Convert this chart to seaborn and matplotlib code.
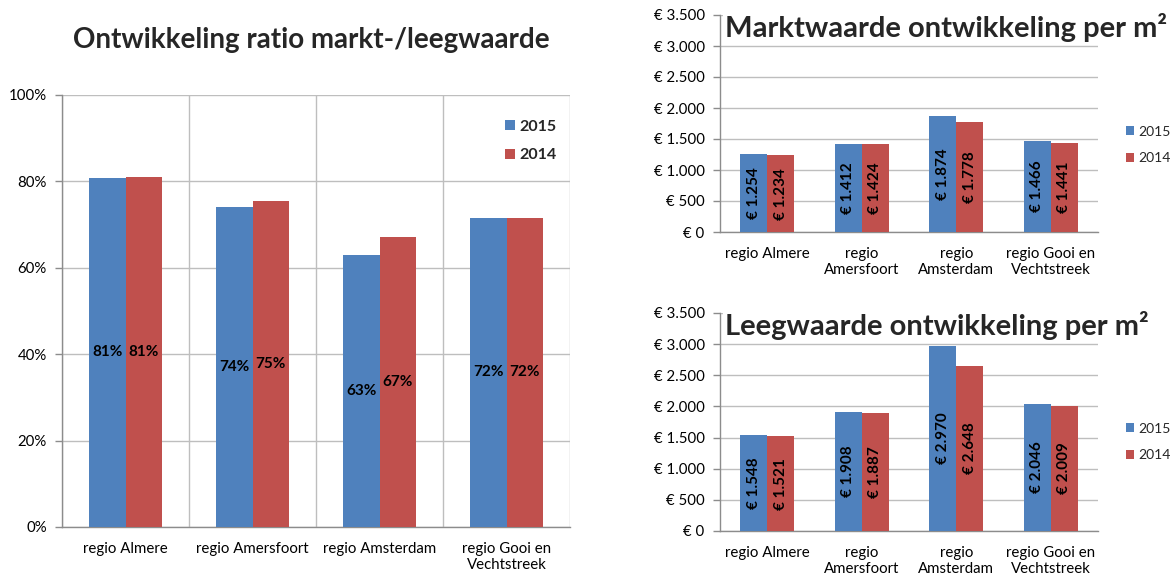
import matplotlib
matplotlib.use("Agg")
import matplotlib.pyplot as plt
from matplotlib.ticker import FuncFormatter, FixedLocator, MultipleLocator
import numpy as np
import pandas as pd
import seaborn as sns

# ---------------- data ----------------
regions = ["regio Almere", "regio Amersfoort", "regio Amsterdam", "regio Gooi en Vechtstreek"]
labels_left = ["regio Almere", "regio Amersfoort", "regio Amsterdam", "regio Gooi en\nVechtstreek"]
labels_right = ["regio Almere", "regio\nAmersfoort", "regio\nAmsterdam", "regio Gooi en\nVechtstreek"]
years = ["2015", "2014"]

ratio_2015 = [0.809, 0.740, 0.630, 0.716]
ratio_2014 = [0.811, 0.754, 0.671, 0.716]

markt_2015 = [1254, 1412, 1874, 1466]
markt_2014 = [1234, 1424, 1778, 1441]

leeg_2015 = [1548, 1908, 2970, 2046]
leeg_2014 = [1521, 1887, 2648, 2009]

title_left = "Ontwikkeling ratio markt-/leegwaarde"
title_markt = "Marktwaarde ontwikkeling per m²"
title_leeg = "Leegwaarde ontwikkeling per m²"

# ---------------- style ----------------
BLUE = "#4F81BD"
RED = "#C0504D"
GRID = "#BEBEBE"
SPINE = "#8C8C8C"

sns.set_style("white")
plt.rcParams["font.family"] = ["Lato", "DejaVu Sans"]

W, H = 1174, 576
fig = plt.figure(figsize=(W / 100, H / 100), dpi=100)


def px_axes(x0, y0, x1, y1):
    return fig.add_axes([x0 / W, 1 - y1 / H, (x1 - x0) / W, (y1 - y0) / H])


def euro(v, pos=None):
    return "€ " + f"{v:,.0f}".replace(",", ".")


def draw_bars(ax, v15, v14):
    df = pd.DataFrame({
        "region": regions * 2,
        "year": [years[0]] * len(regions) + [years[1]] * len(regions),
        "value": list(v15) + list(v14),
    })
    sns.barplot(data=df, x="region", y="value", hue="year", hue_order=years,
                palette=[BLUE, RED], width=0.57, saturation=1, linewidth=0,
                errorbar=None, ax=ax, zorder=3)
    ax.set_xlim(-0.5, len(regions) - 0.5)
    ax.set_xlabel("")
    ax.set_ylabel("")
    for s in ["top", "right"]:
        ax.spines[s].set_visible(False)
    for s in ["left", "bottom"]:
        ax.spines[s].set_color(SPINE)
        ax.spines[s].set_linewidth(1)
    ax.set_axisbelow(True)
    ax.yaxis.grid(True, color=GRID, lw=1)
    ax.xaxis.set_minor_locator(FixedLocator(np.arange(-0.5, len(regions), 1.0)))
    ax.tick_params(axis="x", which="major", length=0, pad=11, labelsize=10.8, labelcolor="black")
    ax.tick_params(axis="x", which="minor", length=5, width=1, color=SPINE, direction="out")
    ax.tick_params(axis="y", which="major", length=5, width=1, color=SPINE, direction="out",
                   pad=6, labelsize=10.8, labelcolor="black", left=True)


# ---------------- left chart ----------------
axL = px_axes(62, 95, 570, 527)
draw_bars(axL, ratio_2015, ratio_2014)
axL.set_ylim(0, 1.0)
axL.yaxis.set_major_locator(MultipleLocator(0.2))
axL.yaxis.set_major_formatter(FuncFormatter(lambda v, p: f"{v*100:.0f}%"))
axL.set_xticks(range(len(regions)))
axL.set_xticklabels(labels_left)
axL.xaxis.grid(True, which="minor", color=GRID, lw=1)
for cont, vals in zip(axL.containers, [ratio_2015, ratio_2014]):
    axL.bar_label(cont, labels=[f"{v*100:.0f}%" for v in vals], label_type="center",
                  fontsize=11, fontweight="bold", color="black")
h, l = axL.get_legend_handles_labels()
axL.legend(h, l, loc="upper left", bbox_to_anchor=((505 - 62) / 508, (527 - 120) / 432),
           frameon=False, prop={"weight": "bold", "size": 11.5}, handlelength=0.6,
           handleheight=0.6, handletextpad=0.3, labelspacing=0.9, borderpad=0,
           borderaxespad=0)
fig.text(311 / W, 1 - 40 / H, title_left, ha="center", va="center",
         fontsize=20, fontweight="bold")


# ---------------- right charts ----------------
def right_chart(ax, v15, v14, title, leg_y):
    draw_bars(ax, v15, v14)
    ax.set_ylim(0, 3500)
    ax.yaxis.set_major_locator(MultipleLocator(500))
    ax.yaxis.set_major_formatter(FuncFormatter(euro))
    ax.set_xticks(range(len(regions)))
    ax.set_xticklabels(labels_right)
    for cont, vals in zip(ax.containers, [v15, v14]):
        ax.bar_label(cont, labels=[euro(v) for v in vals], label_type="center",
                     rotation=90, fontsize=11, fontweight="bold", color="black")
    h, l = ax.get_legend_handles_labels()
    ax.legend(h, l, loc="center left", bbox_to_anchor=((1126 - 720) / 378, leg_y),
              frameon=False, prop={"size": 10}, handlelength=0.6, handleheight=0.6,
              handletextpad=0.3, labelspacing=1.05, borderpad=0, borderaxespad=0)
    ax.text(0.013, 1.01, title, transform=ax.transAxes, ha="left", va="top",
            fontsize=21, fontweight="bold", zorder=10, clip_on=False,
            bbox=dict(fc="white", ec="none", pad=1))


axT = px_axes(720, 15, 1098, 232)
right_chart(axT, markt_2015, markt_2014, title_markt, (232 - 145) / 217)

axB = px_axes(720, 313, 1098, 531)
right_chart(axB, leeg_2015, leeg_2014, title_leeg, (531 - 442) / 218)

fig.savefig("out.png", dpi=100, facecolor="white")
